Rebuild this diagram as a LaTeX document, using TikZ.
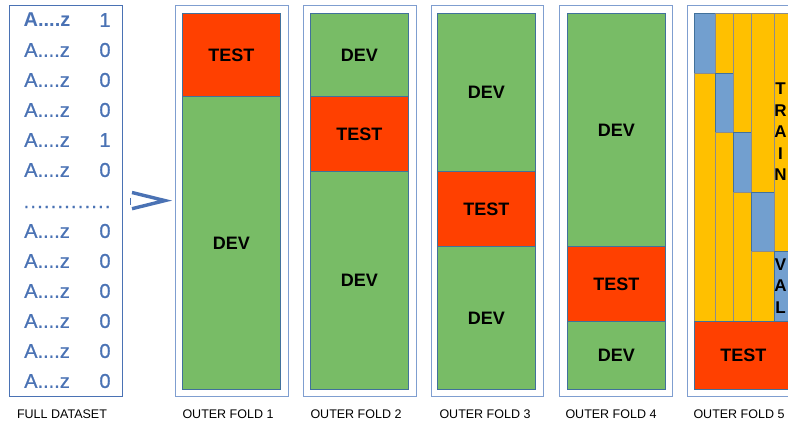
\documentclass[tikz,border=0pt]{standalone}
\usepackage{fontspec}
\setmainfont{Liberation Sans}
\definecolor{frameblue}{RGB}{127,158,208}
\definecolor{innerblue}{RGB}{65,113,156}
\definecolor{devgreen}{RGB}{120,188,102}
\definecolor{testred}{RGB}{255,64,0}
\definecolor{trainorange}{RGB}{255,192,0}
\definecolor{valblue}{RGB}{114,159,207}
\definecolor{dsblue}{RGB}{74,114,180}
\definecolor{colgray}{RGB}{140,140,140}
\begin{document}
\begin{tikzpicture}[x=1pt,y=-1pt,
  frame/.style={draw=frameblue, line width=1.2pt, anchor=north west, inner sep=0pt},
  dsframe/.style={draw=dsblue, line width=1.2pt, anchor=north west, inner sep=0pt},
  part/.style={draw=innerblue, line width=0.7pt, anchor=north west, inner sep=0pt, minimum width=98pt,
    font=\fontsize{18}{18}\selectfont\bfseries},
  dev/.style={part, fill=devgreen},
  test/.style={part, fill=testred},
  train/.style={draw=colgray, line width=0.7pt, fill=trainorange, anchor=north west, inner sep=0pt,
    font=\fontsize{17}{21.5}\selectfont\bfseries, align=center},
  val/.style={draw=innerblue, line width=0.7pt, fill=valblue, anchor=north west, inner sep=0pt,
    font=\fontsize{17}{21.5}\selectfont\bfseries, align=center},
  caption/.style={font=\fontsize{12.5}{12.5}\selectfont},
  ds/.style={font=\fontsize{20}{20}\selectfont\addfontfeature{FakeBold=0.8}, text=dsblue},
  dsb/.style={font=\fontsize{20}{20}\selectfont\bfseries, text=dsblue}
]
\useasboundingbox (0,0) rectangle (788,424);

% full dataset
\node[dsframe, minimum width=113pt, minimum height=391pt] (dsbox) at (9,5) {};
\node[dsb] (r1a) at (47,20) {A....z};  \node[ds] (r1b) at (105,20) {1};
\node[ds] (r2a) at (47,50) {A....z};  \node[ds] (r2b) at (105,50) {0};
\node[ds] (r3a) at (47,80) {A....z};  \node[ds] (r3b) at (105,80) {0};
\node[ds] (r4a) at (47,110) {A....z}; \node[ds] (r4b) at (105,110) {0};
\node[ds] (r5a) at (47,140) {A....z}; \node[ds] (r5b) at (105,140) {1};
\node[ds] (r6a) at (47,170) {A....z}; \node[ds] (r6b) at (105,170) {0};
\node[ds] (dots) at (67,207) {\addfontfeature{LetterSpace=6}.............};
\node[ds] (r7a) at (47,231) {A....z};  \node[ds] (r7b) at (105,231) {0};
\node[ds] (r8a) at (47,261) {A....z};  \node[ds] (r8b) at (105,261) {0};
\node[ds] (r9a) at (47,291) {A....z};  \node[ds] (r9b) at (105,291) {0};
\node[ds] (r10a) at (47,321) {A....z}; \node[ds] (r10b) at (105,321) {0};
\node[ds] (r11a) at (47,351) {A....z}; \node[ds] (r11b) at (105,351) {0};
\node[ds] (r12a) at (47,381) {A....z}; \node[ds] (r12b) at (105,381) {0};
\node[caption] (cds) at (62,414) {FULL DATASET};

% arrow glyph
\draw[dsblue, line width=3.4pt] (132,192.5) -- (165,200.6) -- (132,208.7);
\draw[dsblue, line width=1.6pt] (130.5,197.5) -- (130.5,204.5);

% fold 1
\node[frame, minimum width=113pt, minimum height=391pt] (o1) at (175,5) {};
\node[test, minimum height=83pt] (f1t) at (182,13) {TEST};
\node[dev, minimum height=293pt] (f1d) at (182,96) {DEV};
\node[caption] (c1) at (228,414) {OUTER FOLD 1};

% fold 2
\node[frame, minimum width=113pt, minimum height=391pt] (o2) at (303,5) {};
\node[dev, minimum height=83pt] (f2d1) at (310,13) {DEV};
\node[test, minimum height=75pt] (f2t) at (310,96) {TEST};
\node[dev, minimum height=218pt] (f2d2) at (310,171) {DEV};
\node[caption] (c2) at (356,414) {OUTER FOLD 2};

% fold 3
\node[frame, minimum width=112pt, minimum height=391pt] (o3) at (431,5) {};
\node[dev, minimum height=158pt] (f3d1) at (437,13) {DEV};
\node[test, minimum height=75pt] (f3t) at (437,171) {TEST};
\node[dev, minimum height=143pt] (f3d2) at (437,246) {DEV};
\node[caption] (c3) at (485,414) {OUTER FOLD 3};

% fold 4
\node[frame, minimum width=113pt, minimum height=391pt] (o4) at (559,5) {};
\node[dev, minimum height=233pt] (f4d1) at (567,13) {DEV};
\node[test, minimum height=75pt] (f4t) at (567,246) {TEST};
\node[dev, minimum height=68pt] (f4d2) at (567,321) {DEV};
\node[caption] (c4) at (611,414) {OUTER FOLD 4};

% fold 5
\node[frame, minimum width=113pt, minimum height=391pt] (o5) at (687,5) {};
% column 1
\node[val, minimum width=21pt, minimum height=60pt] (k1v) at (694,13) {};
\node[train, minimum width=21pt, minimum height=248pt] (k1t) at (694,73) {};
% column 2
\node[train, minimum width=18pt, minimum height=60pt] (k2a) at (715,13) {};
\node[val, minimum width=18pt, minimum height=59pt] (k2v) at (715,73) {};
\node[train, minimum width=18pt, minimum height=189pt] (k2b) at (715,132) {};
% column 3
\node[train, minimum width=17.5pt, minimum height=119pt] (k3a) at (733,13) {};
\node[val, minimum width=17.5pt, minimum height=60pt] (k3v) at (733,132) {};
\node[train, minimum width=17.5pt, minimum height=129pt] (k3b) at (733,192) {};
% column 4
\node[train, minimum width=23pt, minimum height=179pt] (k4a) at (750.5,13) {};
\node[val, minimum width=23pt, minimum height=59pt] (k4v) at (750.5,192) {};
\node[train, minimum width=23pt, minimum height=70pt] (k4b) at (750.5,251) {};
% column 5
\node[train, minimum width=18.5pt, minimum height=238pt] (k5t) at (773.5,13) {};
\node[val, minimum width=18.5pt, minimum height=70pt] (k5v) at (773.5,251) {};
\node[font=\fontsize{17}{21.5}\selectfont\bfseries, align=center, inner sep=0pt] (trainlbl) at (780.5,132) {T\\R\\A\\I\\N};
\node[font=\fontsize{17}{21.5}\selectfont\bfseries, align=center, inner sep=0pt] (vallbl) at (780.5,286) {V\\A\\L};
\node[test, minimum height=68pt] (f5t) at (694,321) {TEST};
\node[caption] (c5) at (739,414) {OUTER FOLD 5};
\end{tikzpicture}
\end{document}
